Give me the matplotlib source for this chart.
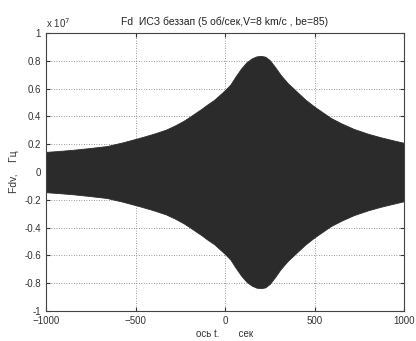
import numpy as np
import matplotlib
matplotlib.use("Agg")
import matplotlib.pyplot as plt

plt.rcParams['font.family'] = ['Liberation Sans', 'DejaVu Sans']

# time, s
t = [-1000, -925, -850, -760, -660, -570, -475, -400, -330, -280, -230,
     -200, -160, -130, -100, -60, -30, 0, 30, 60, 90, 120, 150, 175, 200,
     225, 250, 280, 310, 350, 400, 450, 500, 590, 650, 720, 800, 870, 940,
     1000]
# envelope of Fdv, x 1e7 Hz
env = [0.145, 0.152, 0.16, 0.172, 0.187, 0.214, 0.247, 0.275, 0.305, 0.335,
       0.37, 0.395, 0.43, 0.456, 0.485, 0.52, 0.555, 0.59, 0.63, 0.69,
       0.745, 0.79, 0.818, 0.832, 0.836, 0.83, 0.805, 0.755, 0.70, 0.64,
       0.58, 0.52, 0.47, 0.39, 0.35, 0.31, 0.275, 0.25, 0.228, 0.21]

t = np.array(t)
env = np.array(env)

fig = plt.figure(figsize=(4.16, 3.41), dpi=100)
ax = fig.add_axes([0.1106, 0.088, 0.8606, 0.815])

ax.fill_between(t, -env, env, color='#2b2b2b', linewidth=0.6, edgecolor='#2b2b2b')

ax.set_xlim(-1000, 1000)
ax.set_ylim(-1, 1)
ax.set_xticks([-1000, -500, 0, 500, 1000])
yt = np.round(np.arange(-1, 1.01, 0.2), 1) + 0.0
ax.set_yticks(yt)
ax.set_yticklabels(['%g' % (v if abs(v) > 1e-9 else 0) for v in yt])
ax.grid(True, linestyle=(0, (1, 2)), color='#777777', linewidth=0.6)
ax.set_axisbelow(True)
ax.tick_params(direction='in', length=3, labelsize=7, top=True, right=True,
               color='#333333', labelcolor='#333333')
for s in ax.spines.values():
    s.set_linewidth(0.8)
    s.set_color('#444444')

ax.text(0.0, 1.012, 'x 10$^7$', transform=ax.transAxes, fontsize=7, ha='left',
        va='bottom', color='#333333')
ax.set_title('Fd  ИСЗ беззап (5 об/сек,V=8 km/c , be=85)', fontsize=7.5, pad=6,
             color='#222222')
ax.set_xlabel('ось t.       сек', fontsize=7, labelpad=2, color='#333333')
ax.set_ylabel('Fdv,    Гц', fontsize=7.5, labelpad=4, color='#333333')

fig.savefig('out.png', dpi=100)
